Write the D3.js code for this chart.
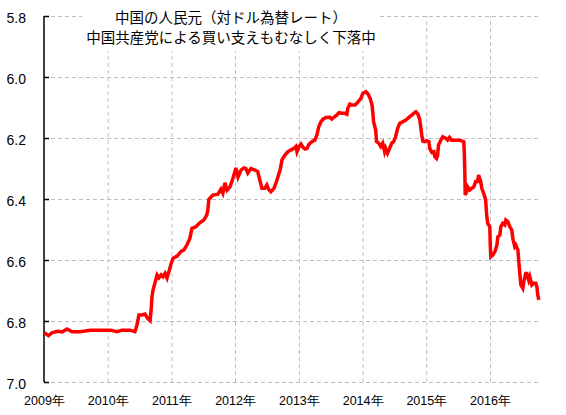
<script src="https://d3js.org/d3.v7.min.js"></script>

<style>
  body { margin: 0; background: #fff; }
  .grid line { stroke: #bfbfbf; stroke-dasharray: 4,3; }
  .grid path { display: none; }
  .axis text { font-family: "Liberation Sans", Arial, sans-serif; fill: #000; }
  .title { font-family: "Noto Sans CJK JP", sans-serif; font-size: 14.5px; fill: #000; }
</style>

<body>
<div id="chart"></div>

<script>
  // 人民元 対ドル為替レート (readings from the picture)
  var dates = [
    "2009-01-03","2009-01-26","2009-02-18","2009-03-22","2009-04-15","2009-05-13","2009-06-11","2009-07-27",
    "2009-09-23","2009-11-19","2010-01-16","2010-02-25","2010-03-23","2010-05-08","2010-06-06","2010-06-18",
    "2010-06-29","2010-07-16","2010-08-03","2010-08-20","2010-09-01","2010-09-07","2010-09-12","2010-09-18",
    "2010-09-29","2010-10-11","2010-10-22","2010-11-03","2010-11-14","2010-11-26","2010-12-07","2010-12-18",
    "2010-12-30","2011-01-11","2011-02-03","2011-02-26","2011-03-14","2011-03-31","2011-04-17","2011-04-29",
    "2011-05-21","2011-06-13","2011-07-06","2011-07-23","2011-07-29","2011-08-04","2011-08-27","2011-09-25",
    "2011-10-12","2011-10-23","2011-11-04","2011-11-16","2011-12-03","2011-12-20",
    "2012-01-06","2012-01-18","2012-02-04","2012-02-21","2012-03-03","2012-03-14","2012-04-01","2012-04-24",
    "2012-05-10","2012-05-22","2012-06-03","2012-06-20","2012-07-01","2012-07-13","2012-07-24","2012-08-11",
    "2012-08-22","2012-09-03","2012-09-15","2012-09-26","2012-10-13","2012-10-30","2012-11-17","2012-12-04",
    "2012-12-15","2012-12-21","2013-01-02","2013-01-13","2013-01-25","2013-02-06","2013-02-17","2013-02-28",
    "2013-03-16","2013-04-02","2013-04-14","2013-04-25","2013-05-07","2013-05-18","2013-06-04","2013-06-27",
    "2013-07-08","2013-07-20","2013-08-06","2013-08-18","2013-09-04","2013-09-21","2013-10-03","2013-10-08",
    "2013-10-20","2013-11-01","2013-11-18","2013-11-29","2013-12-11","2013-12-22","2014-01-03","2014-01-20",
    "2014-02-01","2014-02-13","2014-02-24","2014-03-01","2014-03-05","2014-03-17","2014-03-22","2014-04-03",
    "2014-04-15","2014-04-26","2014-05-07","2014-05-13","2014-05-24","2014-06-05","2014-06-17","2014-06-28",
    "2014-07-09","2014-07-21","2014-08-02","2014-08-19","2014-09-06","2014-09-17","2014-09-28","2014-10-10",
    "2014-10-21","2014-11-02","2014-11-14","2014-11-25","2014-12-01","2014-12-06","2014-12-12","2014-12-23",
    "2015-01-04","2015-01-16","2015-01-21","2015-02-02","2015-02-14","2015-02-19","2015-03-01","2015-03-07",
    "2015-03-12","2015-03-24","2015-04-05","2015-04-22","2015-05-03","2015-05-14","2015-05-26","2015-06-12",
    "2015-07-10","2015-08-04","2015-08-07","2015-08-10","2015-08-12","2015-08-20","2015-08-26","2015-09-07",
    "2015-09-18","2015-09-30","2015-10-11","2015-10-22","2015-10-28","2015-11-09","2015-11-15","2015-11-26",
    "2015-12-07","2015-12-13","2015-12-19","2015-12-31","2016-01-03","2016-01-06","2016-01-17","2016-01-29",
    "2016-02-10","2016-02-15","2016-02-27","2016-03-03","2016-03-14","2016-03-26","2016-04-01","2016-04-12",
    "2016-04-24","2016-05-05","2016-05-11","2016-05-22","2016-05-28","2016-06-09","2016-06-15","2016-06-20",
    "2016-06-26","2016-07-07","2016-07-13","2016-07-24","2016-07-30","2016-08-10","2016-08-16","2016-08-28",
    "2016-09-09","2016-09-20","2016-09-26","2016-10-01","2016-10-07"
  ];
  var rates = [
    6.838,6.848,6.838,6.834,6.836,6.826,6.835,6.835,
    6.830,6.830,6.830,6.835,6.830,6.830,6.835,6.813,
    6.780,6.780,6.777,6.793,6.799,6.764,6.720,6.698,
    6.675,6.649,6.658,6.649,6.655,6.644,6.659,6.638,
    6.613,6.594,6.587,6.572,6.567,6.551,6.529,6.496,
    6.491,6.478,6.469,6.452,6.436,6.401,6.387,6.384,
    6.368,6.381,6.347,6.371,6.360,6.332,
    6.298,6.328,6.305,6.298,6.300,6.315,6.300,6.305,
    6.310,6.338,6.365,6.365,6.354,6.370,6.376,6.365,
    6.349,6.327,6.305,6.272,6.256,6.245,6.239,6.234,
    6.228,6.245,6.228,6.220,6.231,6.236,6.234,6.220,
    6.212,6.207,6.190,6.163,6.147,6.139,6.133,6.132,
    6.138,6.132,6.125,6.117,6.119,6.119,6.122,6.103,
    6.089,6.092,6.092,6.086,6.078,6.070,6.053,6.048,
    6.056,6.070,6.092,6.119,6.147,6.174,6.212,6.217,
    6.228,6.217,6.245,6.234,6.250,6.234,6.217,6.212,
    6.196,6.168,6.152,6.147,6.141,6.136,6.130,6.125,
    6.119,6.114,6.122,6.141,6.168,6.190,6.210,6.212,
    6.209,6.212,6.234,6.247,6.245,6.261,6.267,6.256,
    6.223,6.209,6.196,6.201,6.207,6.198,6.207,6.207,
    6.207,6.212,6.250,6.316,6.387,6.376,6.360,6.370,
    6.365,6.360,6.343,6.343,6.321,6.343,6.365,6.381,
    6.403,6.452,6.480,6.491,6.556,6.589,6.584,6.573,
    6.551,6.524,6.518,6.491,6.480,6.485,6.469,6.474,
    6.491,6.502,6.529,6.556,6.551,6.567,6.611,6.644,
    6.682,6.693,6.671,6.644,6.644,6.666,6.655,6.682,
    6.676,6.676,6.688,6.715,6.731
  ];
  var yTicks = [5.8, 6.0, 6.2, 6.4, 6.6, 6.8, 7.0];
  var xTickYears = [2009, 2010, 2011, 2012, 2013, 2014, 2015, 2016];
  var titleLines = ["中国の人民元（対ドル為替レート）", "中国共産党による買い支えもむなしく下落中"];

  var width = 566, height = 415;
  var margin = {top: 16, right: 27, bottom: 33, left: 44};

  var parse = d3.timeParse("%Y-%m-%d");
  var data = dates.map(function(d, i) { return {date: parse(d), rate: rates[i]}; });

  var svg = d3.select("#chart").append("svg")
      .attr("width", width)
      .attr("height", height);

  var x = d3.scaleTime()
      .domain([new Date(2009, 0, 1), new Date(2016, 9, 8)])
      .range([margin.left, width - margin.right]);

  // inverted: 5.8 on top
  var y = d3.scaleLinear()
      .domain([5.8, 7.0])
      .range([margin.top, height - margin.bottom]);

  var yearDates = xTickYears.map(function(yr) { return new Date(yr, 0, 1); });

  // grid
  svg.append("g")
      .attr("class", "grid")
      .attr("transform", "translate(" + margin.left + ",0)")
      .call(d3.axisLeft(y).tickValues(yTicks).tickSize(-(width - margin.left - margin.right)).tickFormat(""));

  svg.append("g")
      .attr("class", "grid")
      .attr("transform", "translate(0," + (height - margin.bottom) + ")")
      .call(d3.axisBottom(x).tickValues(yearDates.slice(1)).tickSize(-(height - margin.top - margin.bottom)).tickFormat(""));

  // title box covers the grid
  svg.append("rect")
      .attr("x", 82).attr("y", 0)
      .attr("width", 296).attr("height", 51)
      .attr("fill", "#fff");

  svg.selectAll(".title")
      .data(titleLines)
    .enter().append("text")
      .attr("class", "title")
      .attr("x", 231)
      .attr("y", function(d, i) { return 23 + i * 20; })
      .attr("text-anchor", "middle")
      .text(function(d) { return d; });

  // y axis
  var yAxis = svg.append("g")
      .attr("class", "axis")
      .attr("transform", "translate(" + margin.left + ",0)")
      .call(d3.axisLeft(y).tickValues(yTicks).tickSize(-5).tickPadding(18).tickFormat(d3.format(".1f")));
  yAxis.select(".domain").attr("stroke", "#000").attr("stroke-width", 1.5).attr("d", "M0," + y(5.8) + "V" + y(7.0));
  yAxis.selectAll(".tick line").attr("stroke", "#000").attr("stroke-width", 1.5);
  yAxis.selectAll("text").style("font-size", "14px").attr("dy", "0.45em");

  // x labels
  var xAxis = svg.append("g")
      .attr("class", "axis")
      .attr("transform", "translate(0," + (height - margin.bottom) + ")")
      .call(d3.axisBottom(x).tickValues(yearDates).tickSize(0).tickPadding(14)
        .tickFormat(function(d) { return d.getFullYear() + "年"; }));
  xAxis.select(".domain").remove();
  xAxis.selectAll("text").style("font-size", "12.5px");

  // line
  var line = d3.line()
      .x(function(d) { return x(d.date); })
      .y(function(d) { return y(d.rate); });

  svg.append("path")
      .datum(data)
      .attr("fill", "none")
      .attr("stroke", "#ff0000")
      .attr("stroke-width", 3.5)
      .attr("d", line);
</script>
</body>
